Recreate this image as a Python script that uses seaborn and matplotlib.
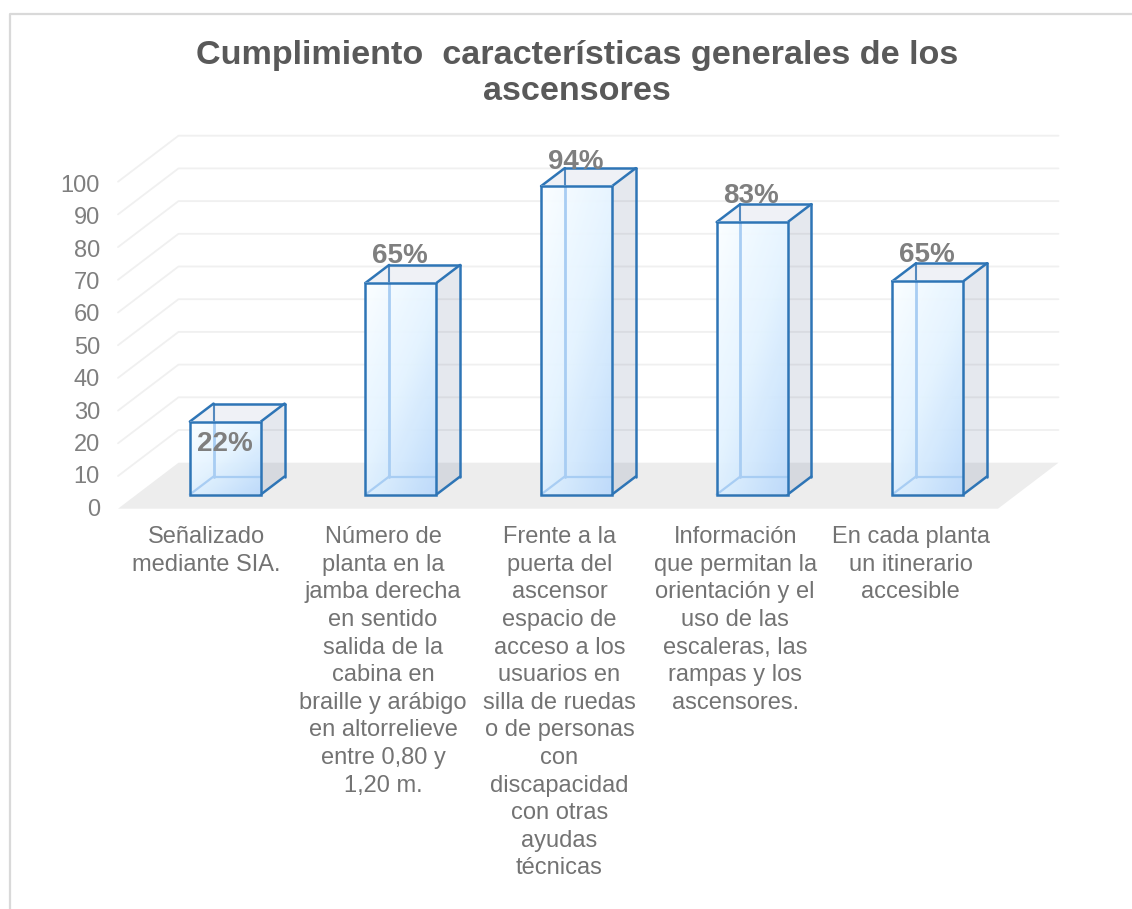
import numpy as np
import pandas as pd
import matplotlib
matplotlib.use('Agg')
import matplotlib.pyplot as plt
import seaborn as sns
from matplotlib.colors import LinearSegmentedColormap
from matplotlib.lines import Line2D
from matplotlib.patches import Polygon

# ---------------------------------------------------------------
# Data
# ---------------------------------------------------------------
categorias = [
    'Señalizado\nmediante SIA.',
    'Número de\nplanta en la\njamba derecha\nen sentido\nsalida de la\ncabina en\nbraille y arábigo\nen altorrelieve\nentre 0,80 y\n1,20 m.',
    'Frente a la\npuerta del\nascensor\nespacio de\nacceso a los\nusuarios en\nsilla de ruedas\no de personas\ncon\ndiscapacidad\ncon otras\nayudas\ntécnicas',
    'Información\nque permitan la\norientación y el\nuso de las\nescaleras, las\nrampas y los\nascensores.',
    'En cada planta\nun itinerario\naccesible',
]
valores = [22.3, 64.7, 94.3, 83.3, 65.2]
etiquetas = ['22%', '65%', '94%', '83%', '65%']
marcas_y = [0, 10, 20, 30, 40, 50, 60, 70, 80, 90, 100]
titulo = 'Cumplimiento  características generales de los\nascensores'

# ---------------------------------------------------------------
# Layout (pixels of the 1132x909 picture)
# ---------------------------------------------------------------
W, H = 1132, 909
PX_CAT = 175.6     # pixels per category
PX_VAL = 3.27      # pixels per unit of value
LEFT, RIGHT = 118, 998
BASE = 494.5       # pixel row of value 0 on the bar front
YMIN = -5
CENTER0 = 225.35   # pixel column of the first bar

GRIS_TEXTO = '#737373'
GRIS_ETIQ = '#7f7f7f'
GRIS_GRID = '#f0f0f0'
GRIS_SUELO = '#ededed'
AZUL = '#2e75b6'
AZUL_INT = '#a8cdf3'

sns.set_theme(style='white')
plt.rcParams['font.family'] = ['Liberation Sans', 'DejaVu Sans']

fig = plt.figure(figsize=(W / 100, H / 100), dpi=100)
bottom_px = BASE - YMIN * PX_VAL
top_px = BASE - 100 * PX_VAL
ax = fig.add_axes([LEFT / W, 1 - bottom_px / H, (RIGHT - LEFT) / W, (bottom_px - top_px) / H])
ax.patch.set_alpha(0)

df = pd.DataFrame({'categoria': categorias, 'valor': valores})
sns.barplot(data=df, x='categoria', y='valor', width=71 / PX_CAT, color='white', ax=ax)
barras = list(ax.patches)

xlim = ((LEFT - CENTER0) / PX_CAT, (RIGHT - CENTER0) / PX_CAT)
ax.set_xlim(xlim)
ax.set_ylim(YMIN, 100)
ax.set_xlabel('')
ax.set_ylabel('')
sns.despine(ax=ax, left=True, bottom=True)

# ---------------------------------------------------------------
# Floor and back wall
# ---------------------------------------------------------------
fondo_x = 60.5 / PX_CAT
frente_y = -14.2 / PX_VAL
fondo_y = 31.8 / PX_VAL

ax.add_patch(Polygon([(xlim[0], frente_y), (xlim[1], frente_y),
                      (xlim[1] + fondo_x, fondo_y), (xlim[0] + fondo_x, fondo_y)],
                     closed=True, fc=GRIS_SUELO, ec='none', zorder=1, clip_on=False))
for v in marcas_y[1:]:
    ax.plot([xlim[0], xlim[0] + fondo_x, xlim[1] + fondo_x],
            [v + frente_y, v + fondo_y, v + fondo_y],
            color=GRIS_GRID, lw=1.3, zorder=1, clip_on=False)

# ---------------------------------------------------------------
# 3D boxes built on the seaborn bars
# ---------------------------------------------------------------
prof_x = 23.7 / PX_CAT
prof_y = 18 / PX_VAL
degradado = LinearSegmentedColormap.from_list('caja', ['#fbfeff', '#e3f3ff', '#bcdafb'])
gx, gy = np.meshgrid(np.linspace(0, 1, 64), np.linspace(0, 1, 64))

for barra in barras:
    x0 = barra.get_x()
    x1 = x0 + barra.get_width()
    h = barra.get_height()

    # back edges, seen through the box
    ax.plot([x0 + prof_x, x0 + prof_x], [prof_y, h + prof_y], color=AZUL, lw=1.5, alpha=0.85, zorder=2.5, clip_on=False)
    ax.plot([x0 + prof_x, x1 + prof_x], [h + prof_y, h + prof_y], color=AZUL, lw=1.8, zorder=3.5, clip_on=False)

    # side, top, bottom
    ax.add_patch(Polygon([(x1, 0), (x1 + prof_x, prof_y), (x1 + prof_x, h + prof_y), (x1, h)],
                         closed=True, fc='#56698f', alpha=0.15, ec='none', zorder=3, clip_on=False))
    ax.add_patch(Polygon([(x0, h), (x0 + prof_x, h + prof_y), (x1 + prof_x, h + prof_y), (x1, h)],
                         closed=True, fc='#7f8fb5', alpha=0.12, ec='none', zorder=3, clip_on=False))
    ax.plot([x1 + prof_x, x1 + prof_x], [prof_y, h + prof_y], color=AZUL, lw=1.8, zorder=3.5, clip_on=False)
    ax.plot([x1, x1 + prof_x], [0, prof_y], color=AZUL, lw=1.8, zorder=3.5, clip_on=False)
    ax.plot([x0, x0 + prof_x], [h, h + prof_y], color=AZUL, lw=1.8, zorder=3.5, clip_on=False)
    ax.plot([x1, x1 + prof_x], [h, h + prof_y], color=AZUL, lw=1.8, zorder=3.5, clip_on=False)

    # front face with diagonal gradient
    ax.imshow((gx + 1.3 * gy) / 2.3, cmap=degradado, extent=(x0, x1, 0, h), origin='upper',
              aspect='auto', alpha=0.96, zorder=4, clip_on=False)

    # inner edges drawn lighter over the front
    ax.plot([x0 + prof_x, x0 + prof_x], [prof_y, h], color=AZUL_INT, lw=2, zorder=4.5, clip_on=False)
    ax.plot([x0 + prof_x, x1], [prof_y, prof_y], color=AZUL_INT, lw=1.6, zorder=4.5, clip_on=False)
    ax.plot([x0, x0 + prof_x], [0, prof_y], color=AZUL_INT, lw=1.6, zorder=4.5, clip_on=False)

    barra.set_facecolor('none')
    barra.set_edgecolor(AZUL)
    barra.set_linewidth(1.8)
    barra.set_zorder(5)

ax.set_xlim(xlim)
ax.set_ylim(YMIN, 100)

# ---------------------------------------------------------------
# Data labels
# ---------------------------------------------------------------
desp_etiq = [-22, 27, 24, 26, 26]
for i, (v, txt) in enumerate(zip(valores, etiquetas)):
    ax.annotate(txt, (i, v), xytext=(-0.5, desp_etiq[i] * 0.72), textcoords='offset points',
                ha='center', va='center', fontsize=20, fontweight='bold',
                color=GRIS_ETIQ, zorder=6, annotation_clip=False)

# ---------------------------------------------------------------
# Axis labels
# ---------------------------------------------------------------
despl_cat = np.array([-19.3, -18, -17, -17, -17]) / PX_CAT
ax.set_xticks(np.arange(len(categorias)) + despl_cat, labels=categorias)
ax.set_yticks(np.array(marcas_y) - (12.8 + 0.03 * np.array(marcas_y)) / PX_VAL,
              labels=[str(m) for m in marcas_y])
ax.tick_params(axis='x', length=0, pad=11, labelsize=17, labelcolor=GRIS_TEXTO)
ax.tick_params(axis='y', length=0, pad=13, labelsize=17, labelcolor=GRIS_ETIQ)
for lab in ax.get_xticklabels():
    lab.set_linespacing(1.33)
    lab.set_multialignment('center')

# ---------------------------------------------------------------
# Title and chart border
# ---------------------------------------------------------------
fig.text(577 / W, 1 - 73.5 / H, titulo, ha='center', va='center', fontsize=24.6,
         fontweight='bold', color='#595959', linespacing=1.22)
fig.add_artist(Line2D([9.5 / W, 9.5 / W, 1], [0, 1 - 13.5 / H, 1 - 13.5 / H], color='#d9d9d9', lw=1.6))

fig.savefig('out.png', dpi=100)
